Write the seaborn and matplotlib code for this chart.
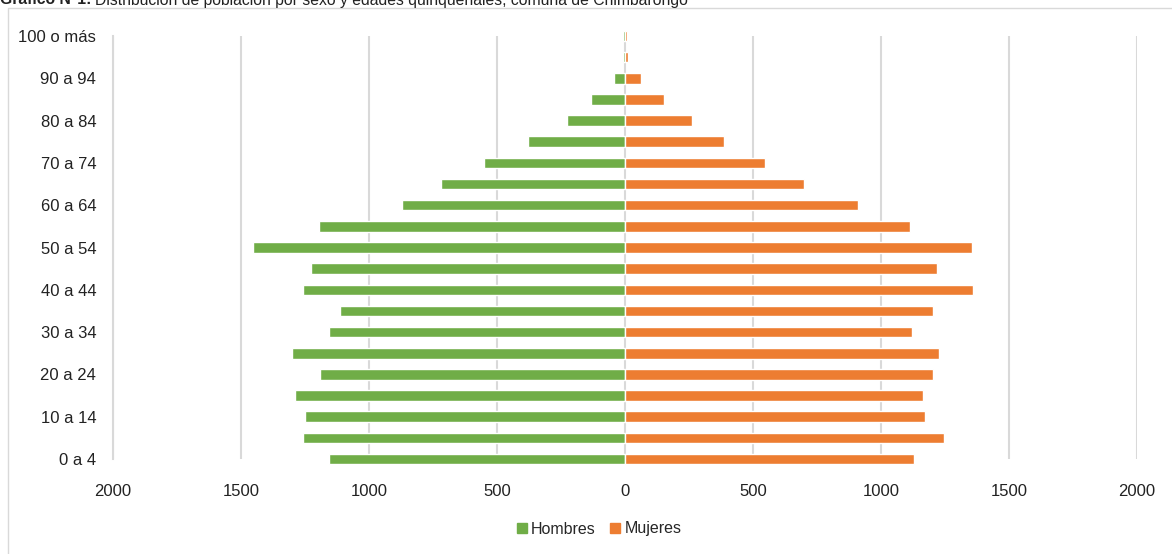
import matplotlib
matplotlib.use("Agg")
import matplotlib.pyplot as plt
from matplotlib.patches import Patch, Rectangle
from matplotlib.ticker import FuncFormatter
import pandas as pd
import seaborn as sns

edades = ["0 a 4", "5 a 9", "10 a 14", "15 a 19", "20 a 24", "25 a 29",
          "30 a 34", "35 a 39", "40 a 44", "45 a 49", "50 a 54", "55 a 59",
          "60 a 64", "65 a 69", "70 a 74", "75 a 79", "80 a 84", "85 a 89",
          "90 a 94", "95 a 99", "100 o más"]
hombres = [1157, 1259, 1249, 1291, 1191, 1302, 1157, 1113, 1259, 1227, 1452,
           1194, 870, 720, 551, 380, 226, 133, 43, 8, 8]
mujeres = [1129, 1246, 1170, 1164, 1202, 1225, 1121, 1203, 1359, 1217, 1354,
           1114, 911, 700, 547, 388, 263, 154, 63, 11, 7]
xticks = [-2000, -1500, -1000, -500, 0, 500, 1000, 1500, 2000]

VERDE = "#70AD47"
NARANJA = "#ED7D31"
GRIS = "#D9D9D9"
TEXTO = "#222222"

sns.set_style("white")
plt.rcParams["font.family"] = ["Liberation Sans", "DejaVu Sans"]

df = pd.DataFrame({
    "edad": edades * 2,
    "sexo": ["Hombres"] * len(edades) + ["Mujeres"] * len(edades),
    "valor": [-v for v in hombres] + mujeres,
})

W, H = 1172, 554
fig = plt.figure(figsize=(W / 100, H / 100), dpi=100)
ax = fig.add_axes([113 / W, 1 - 459 / H, 1024 / W, 423 / H])

orden = edades[::-1]
sns.barplot(data=df, x="valor", y="edad", hue="sexo", order=orden,
            palette={"Hombres": VERDE, "Mujeres": NARANJA}, dodge=False,
            width=0.5, orient="h", legend=False, ax=ax, saturation=1)
for p in ax.patches:
    p.set_clip_on(False)
    p.set_zorder(3)

ax.set_xlim(-2000, 2000)
ax.set_ylim(len(edades) - 1, 0)
ax.set_xticks(xticks)
ax.xaxis.set_major_formatter(FuncFormatter(lambda v, _: f"{abs(int(v))}"))
ax.set_yticks(range(len(orden)))
ax.set_yticklabels([e if edades.index(e) % 2 == 0 else "" for e in orden])
ax.set_xlabel("")
ax.set_ylabel("")

ax.grid(axis="x", color=GRIS, linewidth=1.5, zorder=0)
ax.set_axisbelow(True)
for s in ["top", "right", "bottom"]:
    ax.spines[s].set_visible(False)
ax.spines["left"].set_color(GRIS)
ax.spines["left"].set_linewidth(1.5)
ax.tick_params(axis="y", length=4, color=GRIS, width=1.2, pad=8,
               labelsize=12, labelcolor=TEXTO)
ax.tick_params(axis="x", length=0, pad=18, labelsize=12, labelcolor=TEXTO)

# marco del gráfico
fig.patches.append(Rectangle((8 / W, -0.1), 1.2, 1.1 - 8 / H,
                             transform=fig.transFigure, fill=False,
                             edgecolor=GRIS, linewidth=1))

# título, parte en negrita y parte normal
t1 = fig.text(0, 1 - 4.5 / H, "Gráfico N°1:", fontsize=11.3, fontweight="bold",
              va="baseline", ha="left", color=TEXTO)
fig.canvas.draw()
x_fin = t1.get_window_extent().x1 / W
fig.text(x_fin + 4 / W, 1 - 4.5 / H,
         "Distribución de población por sexo y edades quinquenales, comuna de Chimbarongo",
         fontsize=11.3, va="baseline", ha="left", color=TEXTO)

handles = [Patch(color=VERDE, label="Hombres"), Patch(color=NARANJA, label="Mujeres")]
fig.legend(handles=handles, loc="center", bbox_to_anchor=(599 / W, 1 - 529 / H),
           ncol=2, frameon=False, fontsize=11.5, handlelength=0.65, handleheight=0.65,
           handletextpad=0.25, columnspacing=0.9)

fig.savefig("out.png", dpi=100)
